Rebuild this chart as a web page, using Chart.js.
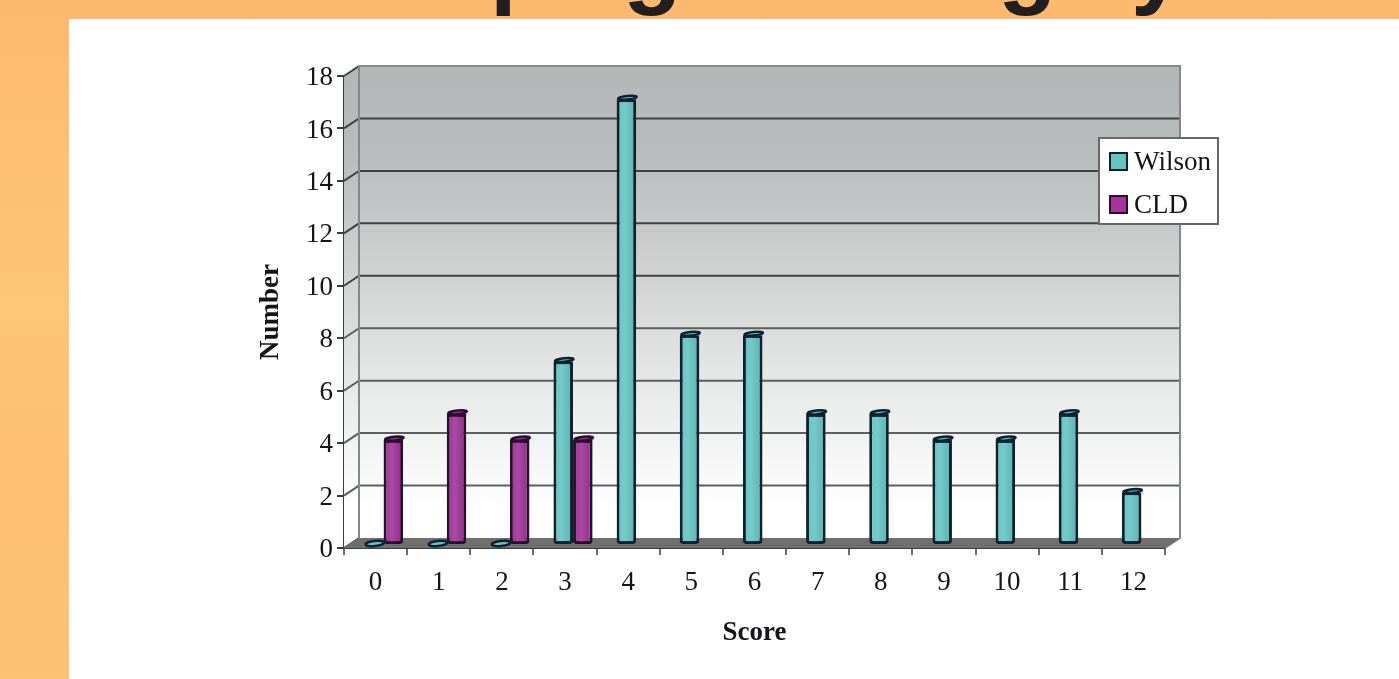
<!DOCTYPE html>
<html>
<head>
<meta charset="utf-8">
<title>Score distribution</title>
<script src="https://cdn.jsdelivr.net/npm/chart.js@4"></script>
<style>
  html, body { margin: 0; height: 100%; overflow: hidden; }
  body { background: linear-gradient(180deg, #fdb96f 0%, #fdc678 45%, #fdbf73 70%, #fcc374 100%); }
  #panel { position: absolute; left: 69px; top: 19px; right: 0; bottom: 0; background: #fff; }
  #band { position: absolute; left: 0; top: 0; right: 0; height: 19px; overflow: hidden; }
  #band span { position: absolute; top: -92px; font: bold 96px/110px "Liberation Sans", sans-serif; color: #231f20; }
  canvas { position: absolute; left: 0; top: 0; }
</style>
</head>
<body>
<div id="panel"></div>
<div id="band">
  <span style="left:490px">p</span>
  <span style="left:623px">g</span>
  <span style="left:998px">g</span>
  <span style="left:1131px">y</span>
</div>
<canvas id="scoreChart" width="1399" height="679"></canvas>
<script>
const scores = ["0", "1", "2", "3", "4", "5", "6", "7", "8", "9", "10", "11", "12"];
const wilson = [0, 0, 0, 7, 17, 8, 8, 5, 5, 4, 4, 5, 2];
const cld = [4, 5, 4, 4, null, null, null, null, null, null, null, null, null];

const serif = '"Liberation Serif", "Times New Roman", serif';

// how far the back wall sits behind the front plane, bars stand half way
const wallX = 15, wallY = -10;
const barX = 8, barY = -3;

const wallsPlugin = {
  id: "walls",
  beforeDatasetsDraw(chart) {
    const { ctx, chartArea: a, scales: { y } } = chart;
    const zero = y.getPixelForValue(0);
    const top = y.getPixelForValue(18);
    const grad = ctx.createLinearGradient(0, top + wallY, 0, zero - 40);
    grad.addColorStop(0, "#b4b7b8");
    grad.addColorStop(0.2, "#b9bcbc");
    grad.addColorStop(1, "#ffffff");

    ctx.save();
    // side wall
    ctx.fillStyle = grad;
    ctx.beginPath();
    ctx.moveTo(a.left, top);
    ctx.lineTo(a.left + wallX, top + wallY);
    ctx.lineTo(a.left + wallX, zero + wallY);
    ctx.lineTo(a.left, zero);
    ctx.closePath();
    ctx.fill();
    // back wall
    ctx.fillRect(a.left + wallX, top + wallY, a.width, zero - top);

    // gridlines run across the back and down the side
    ctx.lineWidth = 2;
    y.ticks.forEach((t) => {
      const py = y.getPixelForValue(t.value);
      ctx.strokeStyle = t.value > 8 ? "#3f4243" : "#5c5f60";
      ctx.beginPath();
      ctx.moveTo(a.left, py);
      ctx.lineTo(a.left + wallX, py + wallY);
      if (t.value > 0 && t.value < 18) ctx.lineTo(a.right + wallX, py + wallY);
      ctx.stroke();
    });

    // back wall frame
    ctx.strokeStyle = "#85888a";
    ctx.beginPath();
    ctx.moveTo(a.left + wallX, zero + wallY);
    ctx.lineTo(a.left + wallX, top + wallY);
    ctx.lineTo(a.right + wallX, top + wallY);
    ctx.lineTo(a.right + wallX, zero + wallY);
    ctx.lineTo(a.right, zero);
    ctx.stroke();

    // floor
    ctx.fillStyle = "#6f6f6f";
    ctx.beginPath();
    ctx.moveTo(a.left, zero);
    ctx.lineTo(a.left + wallX, zero + wallY);
    ctx.lineTo(a.right + wallX, zero + wallY);
    ctx.lineTo(a.right, zero);
    ctx.closePath();
    ctx.fill();
    ctx.restore();

    // bars stand mid way into the floor
    ctx.save();
    ctx.translate(barX, barY);
  },
  afterDatasetsDraw(chart) {
    const { ctx } = chart;
    chart.data.datasets.forEach((ds, i) => {
      chart.getDatasetMeta(i).data.forEach((bar, j) => {
        if (ds.data[j] === null) return;
        const w = bar.width - 3;
        const left = bar.x - w / 2;
        const flat = ds.data[j] === 0;
        if (!flat) {
          // rounded shine across the column
          const shine = ctx.createLinearGradient(left, 0, left + w, 0);
          shine.addColorStop(0, "rgba(255,255,255,0)");
          shine.addColorStop(0.4, "rgba(255,255,255,0.1)");
          shine.addColorStop(1, "rgba(0,0,0,0.08)");
          ctx.fillStyle = shine;
          ctx.fillRect(left, bar.y + 2, w, bar.base - bar.y - 4);
        }
        // top cap, nearly closed so mostly the outline shows
        ctx.save();
        ctx.translate(bar.x + 1, bar.y - 1.5);
        ctx.rotate(-0.1);
        ctx.beginPath();
        ctx.ellipse(0, 0, w / 2 + 1, flat ? 2.5 : 1.8, 0, 0, Math.PI * 2);
        ctx.fillStyle = ds.backgroundColor;
        ctx.fill();
        ctx.lineWidth = 2.5;
        ctx.strokeStyle = ds.borderColor;
        ctx.stroke();
        ctx.restore();
      });
    });
    ctx.restore();
  },
  afterDraw(chart) {
    const { ctx } = chart;
    const rows = [162, 205];
    ctx.save();
    ctx.fillStyle = "#fff";
    ctx.strokeStyle = "#65686a";
    ctx.lineWidth = 2;
    ctx.fillRect(1099, 138, 119, 86);
    ctx.strokeRect(1099, 138, 119, 86);
    ctx.font = "27px " + serif;
    ctx.textBaseline = "middle";
    chart.data.datasets.forEach((ds, i) => {
      ctx.fillStyle = ds.backgroundColor;
      ctx.strokeStyle = ds.borderColor;
      ctx.fillRect(1110, rows[i] - 9, 17, 17);
      ctx.strokeRect(1110, rows[i] - 9, 17, 17);
      ctx.fillStyle = "#16141a";
      ctx.fillText(ds.label, 1134, rows[i] + 1);
    });
    ctx.restore();
  }
};

new Chart(document.getElementById("scoreChart"), {
  type: "bar",
  data: {
    labels: scores,
    datasets: [
      { label: "Wilson", data: wilson, backgroundColor: "#66c5c3", borderColor: "#0d2230", borderWidth: 3 },
      { label: "CLD", data: cld, backgroundColor: "#a1359a", borderColor: "#2a0f30", borderWidth: 3 }
    ]
  },
  options: {
    responsive: false,
    animation: false,
    events: [],
    clip: false,
    layout: { padding: { left: 255, top: 76, right: 234, bottom: 30 } },
    datasets: {
      bar: {
        barPercentage: 1,
        categoryPercentage: 0.62,
        borderSkipped: false,
        borderRadius: { bottomLeft: 3, bottomRight: 3, topLeft: 0, topRight: 0 }
      }
    },
    plugins: { legend: { display: false }, tooltip: { enabled: false } },
    scales: {
      x: {
        afterFit(scale) { scale.height = 101; },
        grid: { drawOnChartArea: false, tickLength: 7, color: "#6b6e70", lineWidth: 2 },
        border: { color: "#3a3d3f", width: 2 },
        ticks: { color: "#16141a", padding: 12, font: { family: serif, size: 27 } },
        title: { display: true, text: "Score", color: "#16141a", padding: 0, font: { family: serif, size: 27, weight: "bold" } }
      },
      y: {
        min: 0,
        max: 18,
        afterFit(scale) { scale.width = 89; },
        grid: { drawOnChartArea: false, tickLength: 7, color: "#3a3d3f", lineWidth: 2 },
        border: { color: "#3a3d3f", width: 2 },
        ticks: { stepSize: 2, color: "#16141a", padding: 4, labelOffset: 2, font: { family: serif, size: 27 } },
        title: { display: true, text: "Number", color: "#16141a", padding: 0, font: { family: serif, size: 27, weight: "bold" } }
      }
    }
  },
  plugins: [wallsPlugin]
});
</script>
</body>
</html>
